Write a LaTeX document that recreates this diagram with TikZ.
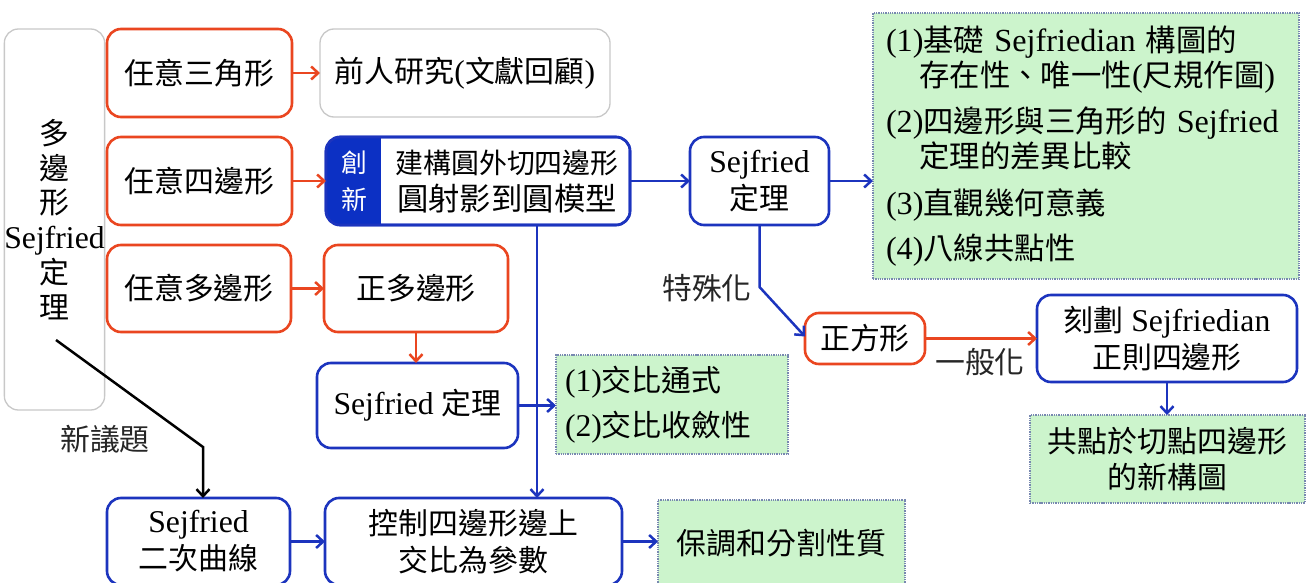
\documentclass[tikz,border=0pt]{standalone}
\usepackage{fontspec}
\setmainfont{Noto Sans CJK TC}
\newfontfamily\lat[Scale=1.06]{Liberation Serif}
\newcommand\en[1]{{\lat #1}}
\usetikzlibrary{arrows.meta}
\definecolor{redc}{RGB}{234,70,32}
\definecolor{bluec}{RGB}{28,52,190}
\definecolor{dkblue}{RGB}{12,48,196}
\definecolor{greenc}{RGB}{204,244,204}
\definecolor{dotc}{RGB}{120,136,176}
\definecolor{grayc}{RGB}{200,200,200}
\begin{document}
\begin{tikzpicture}[x=1bp,y=-1bp,
  every node/.style={font=\fontsize{30}{37}\selectfont, inner sep=0pt, outer sep=0pt, align=center},
  box/.style={line width=2.6bp, rounded corners=14bp, fill=white},
  redbox/.style={box, draw=redc},
  bluebox/.style={box, draw=bluec},
  graybox/.style={line width=1.3bp, rounded corners=14bp, draw=grayc, fill=white},
  greenbox/.style={fill=greenc, draw=dotc, densely dotted, line width=1.3bp},
  conn/.style={line width=2.5bp, -{Straight Barb[length=7bp,width=13bp,line width=2.5bp]}},
  redarr/.style={conn, draw=redc},
  bluearr/.style={conn, draw=bluec},
  blackarr/.style={conn, draw=black},
  lbl/.style={text=black!85}
]
\clip (0,0) rectangle (1312,583);
\fill[white] (0,0) rectangle (1312,583);

% left tall box
\node[graybox, minimum width=73bp, minimum height=381bp, font=\fontsize{30}{35}\selectfont] (tall) at (54.5,219.5) {多\\邊\\形\\\en{Sejfried}\\定\\理};

% row 1
\node[redbox, minimum width=185bp, minimum height=88bp] (tri) at (199.5,73) {任意三角形};
\node[graybox, minimum width=290bp, minimum height=88bp] (prev) at (465,73) {前人研究\en{(}文獻回顧\en{)}};

% row 2
\node[redbox, minimum width=185bp, minimum height=88bp] (quad) at (199.5,181) {任意四邊形};
\node[bluebox, minimum width=304bp, minimum height=88bp] (inno) at (478,181) {};
\begin{scope}
  \clip[rounded corners=14bp] (inno.north west) rectangle (inno.south east);
  \fill[dkblue] (inno.north west) rectangle ([xshift=55bp]inno.south west);
\end{scope}
\draw[bluec, line width=2.6bp, rounded corners=14bp] (inno.north west) rectangle (inno.south east);
\node[text=white, font=\fontsize{26}{37}\selectfont] (innoL) at (354,181.5) {創\\新};
\node (innoR) at (507,181.5) {{\fontsize{28}{37}\selectfont 建構圓外切四邊形}\\{\fontsize{31.5}{37}\selectfont 圓射影到圓模型}};
\node[bluebox, minimum width=139bp, minimum height=88bp] (sejA) at (759.5,181) {\en{Sejfried}\\定理};
\node[greenbox, minimum width=426bp, minimum height=266bp, text width=400bp, align=left, font=\fontsize{30.5}{35}\selectfont] (greenA) at (1086,146)
{\en{(1)}基礎\en{ Sejfriedian }構圖的\\
\hspace*{1.1em}存在性、唯一性\en{(}尺規作圖\en{)}\\[12bp]
\en{(2)}四邊形與三角形的\en{ Sejfried}\\
\hspace*{1.1em}定理的差異比較\\[12bp]
\en{(3)}直觀幾何意義\\[10bp]
\en{(4)}八線共點性};

% row 3
\node[redbox, minimum width=184bp, minimum height=87bp] (poly) at (199,288.5) {任意多邊形};
\node[redbox, minimum width=184bp, minimum height=87bp] (reg) at (416,288.5) {正多邊形};
\node[bluebox, minimum width=201bp, minimum height=85bp] (sejB) at (417.5,405.5) {\en{Sejfried }定理};
\node[greenbox, minimum width=232bp, minimum height=99bp, text width=214bp, align=left, font=\fontsize{30}{45}\selectfont] (greenB) at (672,404.5) {\en{(1)}交比通式\\\en{(2)}交比收斂性};

\node[redbox, minimum width=120bp, minimum height=51bp] (square) at (865,338.5) {正方形};
\node[bluebox, minimum width=260bp, minimum height=87bp] (carve) at (1167,338.5) {刻劃\en{ Sejfriedian}\\正則四邊形};
\node[greenbox, minimum width=275bp, minimum height=88bp] (greenC) at (1167.5,459) {共點於切點四邊形\\的新構圖};

% bottom row
\node[bluebox, minimum width=183bp, minimum height=87bp] (quadric) at (198.5,541.5) {\en{Sejfried}\\二次曲線};
\node[bluebox, minimum width=297bp, minimum height=87bp] (ctrl) at (473.5,541.5) {控制四邊形邊上\\交比為參數};
\node[greenbox, minimum width=247bp, minimum height=86bp] (greenD) at (781.5,543) {保調和分割性質};

% labels
\node[lbl] (lspec) at (707,288) {特殊化};
\node[lbl] (lgen) at (980,362) {一般化};
\node[lbl] (lnew) at (105,439) {新議題};

% connectors
\draw[redarr] (tri.east) -- (prev.west);
\draw[redarr] (quad.east) -- (inno.west);
\draw[redarr] (poly.east) -- (reg.west);
\draw[redarr] (reg.south) -- (reg.south |- sejB.north);
\draw[redarr] (square.east) -- (carve.west);

\draw[bluearr] (inno.east) -- (sejA.west);
\draw[bluearr] (sejA.east) -- (sejA.east -| greenA.west);
\coordinate (vx) at (537,0);
\draw[bluearr] (vx |- inno.south) -- (vx |- ctrl.north);
\draw[bluearr] (sejB.east) -- (sejB.east -| greenB.west);
\draw[bluearr] (sejA.south) -- ++(0,62) -- ([yshift=2bp]square.west);
\draw[bluearr] (carve.south) -- (carve.south |- greenC.north);
\draw[bluearr] (quadric.east) -- (ctrl.west);
\draw[bluearr] (ctrl.east) -- (ctrl.east -| greenD.west);

\coordinate (bstart) at (56,340);
\coordinate (bmid) at (203,447);
\draw[blackarr] (bstart) -- (bmid) -- (bmid |- quadric.north);
\end{tikzpicture}
\end{document}
